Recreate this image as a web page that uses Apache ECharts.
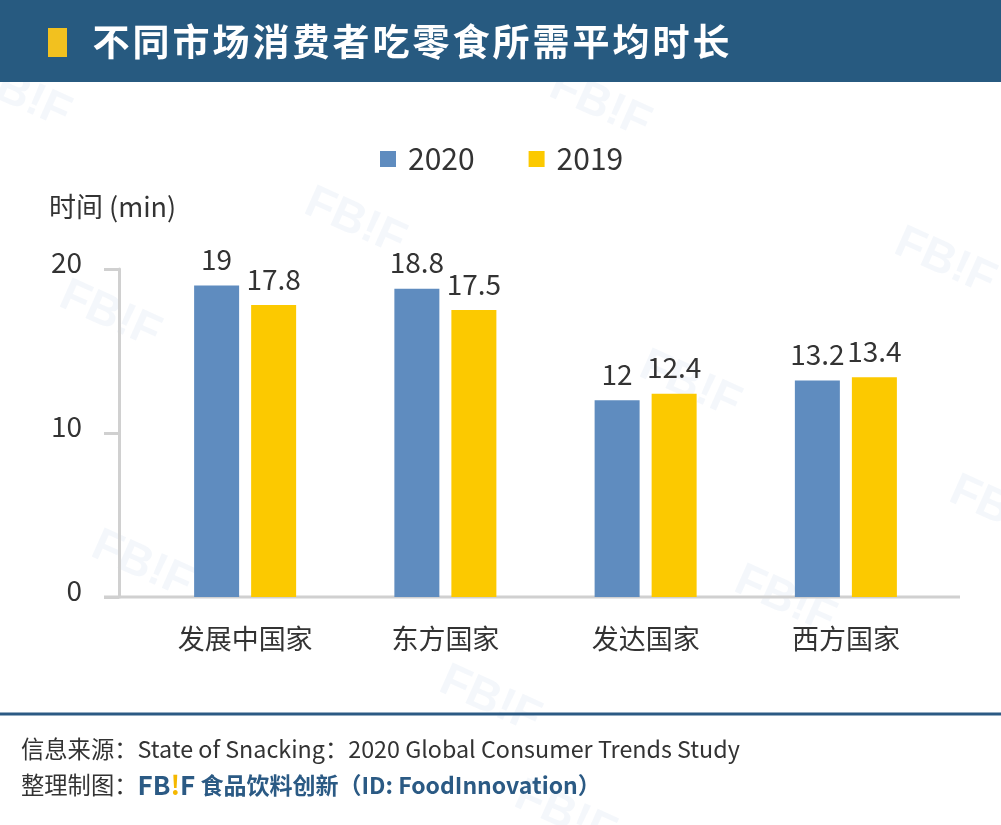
<!DOCTYPE html>
<html><head><meta charset="utf-8">
<script src="https://cdn.jsdelivr.net/npm/echarts@6/dist/echarts.min.js"></script>
<style>html,body{margin:0;padding:0;background:#fff}#c{width:1001px;height:825px}</style>
</head><body><div id="c"></div>
<script>
const categories = ['发展中国家', '东方国家', '发达国家', '西方国家'];
const seriesNames = ['2020', '2019'];
const values2020 = [19, 18.8, 12, 13.2];
const values2019 = [17.8, 17.5, 12.4, 13.4];
const yMin = 0, yMax = 20, yStep = 10;
const titleText = '不同市场消费者吃零食所需平均时长';
const yAxisName = '时间 (min)';
const sourceText = '信息来源：State of Snacking：2020 Global Consumer Trends Study';

const FONT = '"Noto Sans CJK SC", "Noto Sans", sans-serif';
const BLUE = '#5f8cbf', YELLOW = '#fcc900', HEADER = '#275a80', NAVY = '#2b5a84', TXT = '#333333', AXIS = '#d0d0d0';

const watermarkSpots = [[20,95],[600,105],[355,222],[945,262],[110,315],[690,385],[1000,510],[142,565],[785,600],[490,700],[565,815]];
const watermarks = watermarkSpots.map(p => ({
  type: 'text', x: p[0], y: p[1], rotation: -0.42, z: -1, silent: true,
  style: { text: 'FB!F', font: 'bold 46px "Liberation Sans", sans-serif', fill: 'rgba(225,234,244,0.38)', align: 'center', verticalAlign: 'middle' }
}));

const chart = echarts.init(document.getElementById('c'), null, { renderer: 'canvas' });
chart.setOption({
  backgroundColor: '#ffffff',
  animation: false,
  textStyle: { fontFamily: FONT },
  graphic: [
    { type: 'rect', shape: { x: 0, y: 0, width: 1001, height: 82 }, style: { fill: HEADER }, z: 0 },
    { type: 'rect', shape: { x: 48, y: 28, width: 19, height: 29 }, style: { fill: '#f2c11f' }, z: 1 },
    { type: 'line', shape: { x1: 104, y1: 597, x2: 960, y2: 597 }, style: { stroke: AXIS, lineWidth: 3 }, z: 2 },
    { type: 'line', shape: { x1: 0, y1: 714, x2: 1001, y2: 714 }, style: { stroke: NAVY, lineWidth: 3 }, z: 1 },
    ...watermarks
  ],
  title: [
    {
      left: 91, top: 22, padding: 0,
      text: titleText.split('').map(c => '{c|' + c + '}').join(''),
      textStyle: { rich: { c: { width: 40, align: 'center', fontSize: 37, fontWeight: 'bold', color: '#ffffff', fontFamily: FONT, lineHeight: 40 } } }
    },
    {
      left: 49, top: 193, padding: 0, text: yAxisName,
      textStyle: { fontSize: 27, fontWeight: 'normal', color: TXT, fontFamily: FONT }
    },
    {
      left: 21, top: 737, padding: 0, text: sourceText,
      textStyle: { fontSize: 23.3, fontWeight: 'normal', color: TXT, fontFamily: FONT }
    },
    {
      left: 21, top: 772, padding: 0,
      text: '{g|整理制图：}{b|FB}{y|!}{b|F}{m| 食品饮料创新（ID: FoodInnovation）}',
      textStyle: { fontWeight: 'normal', rich: {
        g: { fontSize: 23.3, color: TXT, fontWeight: 'normal', fontFamily: FONT },
        b: { fontSize: 26, color: NAVY, fontWeight: 'bold', fontFamily: FONT },
        y: { fontSize: 26, color: '#f5b800', fontWeight: 'bold', fontFamily: FONT },
        m: { fontSize: 23, color: NAVY, fontWeight: 'bold', fontFamily: FONT }
      } }
    }
  ],
  legend: {
    left: 375, top: 139, icon: 'rect', itemWidth: 16, itemHeight: 16, itemGap: 54,
    data: seriesNames,
    textStyle: { fontSize: 30, color: TXT, padding: [0, 0, 0, 7], fontFamily: FONT }
  },
  grid: { left: 145, right: 55, top: 269, bottom: 228, containLabel: false },
  xAxis: {
    type: 'category', data: categories,
    axisLine: { show: false }, axisTick: { show: false },
    axisLabel: { fontSize: 27, color: TXT, margin: 28, fontFamily: FONT }
  },
  yAxis: {
    type: 'value', min: yMin, max: yMax, interval: yStep, offset: 26,
    splitLine: { show: false },
    axisLine: { show: true, lineStyle: { color: AXIS, width: 3 } },
    axisTick: { show: true, length: 15, lineStyle: { color: AXIS, width: 3 } },
    axisLabel: { fontSize: 28, color: TXT, margin: 37, verticalAlign: 'bottom', lineHeight: 14, fontFamily: FONT }
  },
  series: [
    { name: seriesNames[0], type: 'bar', data: values2020, barWidth: 45, barGap: '26.7%',
      itemStyle: { color: BLUE },
      label: { show: true, position: 'top', distance: 12, fontSize: 28, color: TXT, fontFamily: FONT } },
    { name: seriesNames[1], type: 'bar', data: values2019, barWidth: 45, barGap: '26.7%',
      itemStyle: { color: YELLOW },
      label: { show: true, position: 'top', distance: 12, fontSize: 28, color: TXT, fontFamily: FONT } }
  ]
});
</script>
</body></html>
